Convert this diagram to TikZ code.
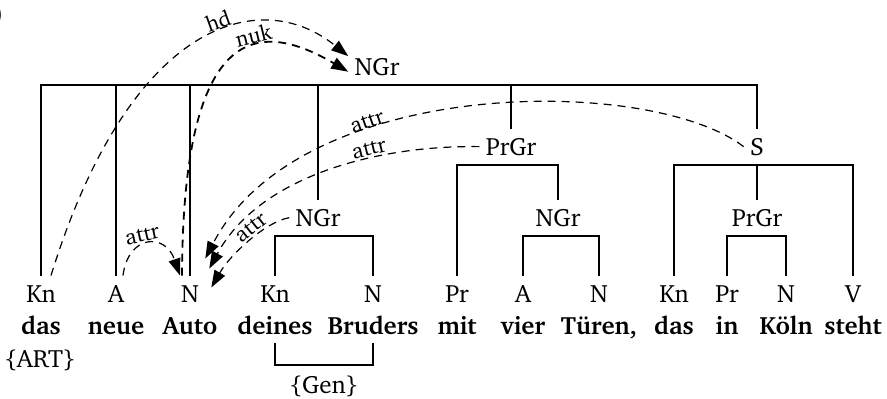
\documentclass[tikz,border=0pt]{standalone}
\usepackage[T1]{fontenc}
\usepackage{charter}
\usetikzlibrary{arrows.meta}

\begin{document}
\begin{tikzpicture}[
  x=0.5pt, y=-0.5pt,
  every node/.style={font=\fontsize{12.5}{15}\selectfont},
  catnode/.style={anchor=base, inner xsep=3pt, inner ysep=4.5pt},
  phrasenode/.style={anchor=base, inner xsep=3pt, inner ysep=4.5pt},
  wordnode/.style={anchor=base, inner xsep=2pt, inner ysep=4pt, font=\fontsize{12.5}{15}\selectfont\bfseries},
  featnode/.style={anchor=base, inner ysep=5pt},
  tree/.style={line width=0.9pt},
  dep/.style={dash pattern=on 4pt off 3pt, line width=0.6pt, -{Triangle[length=8.5pt, width=6pt]}},
  deplabel/.style={font=\fontsize{11}{13}\selectfont, sloped, above, inner sep=1pt},
]
\useasboundingbox (0,0) rectangle (887,398);

\node[anchor=east, inner sep=0pt] (corner) at (4,15) {)};

% word categories
\node[catnode] (kn1) at (41,302) {Kn};
\node[catnode] (a1) at (116,302) {A};
\node[catnode] (n1) at (190,302) {N};
\node[catnode] (kn2) at (275,302) {Kn};
\node[catnode] (n2) at (373,302) {N};
\node[catnode] (pr1) at (457,302) {Pr};
\node[catnode] (a2) at (523,302) {A};
\node[catnode] (n3) at (599,302) {N};
\node[catnode] (kn3) at (674,302) {Kn};
\node[catnode] (pr2) at (727,302) {Pr};
\node[catnode] (n4) at (786,302) {N};
\node[catnode] (v1) at (853,302) {V};

% the sentence
\node[wordnode] (das1) at (41,334) {das};
\node[wordnode] (neue) at (116,334) {neue};
\node[wordnode] (auto) at (190,334) {Auto};
\node[wordnode] (deines) at (275,334) {deines};
\node[wordnode] (bruders) at (373,334) {Bruders};
\node[wordnode] (mit) at (457,334) {mit};
\node[wordnode] (vier) at (523,334) {vier};
\node[wordnode] (tueren) at (599,334) {Türen,};
\node[wordnode] (das2) at (674,334) {das};
\node[wordnode] (in) at (727,334) {in};
\node[wordnode] (koeln) at (786,334) {Köln};
\node[wordnode] (steht) at (853,334) {steht};

% features
\node[featnode] (art) at (40,367) {\{ART\}};
\node[featnode] (gen) at (324,393) {\{Gen\}};

% phrases
\node[phrasenode] (ngrtop) at (377,75) {NGr};
\node[phrasenode] (prgr1) at (511,155) {PrGr};
\node[phrasenode] (s1) at (757,155) {S};
\node[phrasenode] (ngr2) at (318,226) {NGr};
\node[phrasenode] (ngr3) at (558,226) {NGr};
\node[phrasenode] (prgr2) at (757,226) {PrGr};

% constituency brackets
\draw[tree] (kn1.north) |- (ngrtop.south) -| (s1.north);
\draw[tree] (a1.north) -- (a1.north |- ngrtop.south);
\draw[tree] (n1.north) -- (n1.north |- ngrtop.south);
\draw[tree] (ngr2.north) -- (ngr2.north |- ngrtop.south);
\draw[tree] (prgr1.north) -- (prgr1.north |- ngrtop.south);
\draw[tree] (kn2.north) |- (ngr2.south) -| (n2.north);
\draw[tree] (pr1.north) |- (prgr1.south) -| (ngr3.north);
\draw[tree] (a2.north) |- (ngr3.south) -| (n3.north);
\draw[tree] (kn3.north) |- (s1.south) -| (v1.north);
\draw[tree] (prgr2.north) -- (prgr2.north |- s1.south);
\draw[tree] (pr2.north) |- (prgr2.south) -| (n4.north);
\draw[tree] (deines.south) |- (gen.north) -| (bruders.south);

% dependencies
\draw[dep] ([xshift=5pt]kn1.north) .. controls (130,20) and (260,-15) .. node[deplabel, pos=0.58] {hd} (ngrtop.160);
\draw[dep, line width=0.9pt] ([xshift=-4pt]n1.north) .. controls (183,20) and (260,20) .. node[deplabel, pos=0.62] {nuk} (ngrtop.190);
\draw[dep] ([xshift=3.5pt]a1.north) .. controls (128,235) and (165,232) .. node[deplabel, pos=0.45] {attr} ([xshift=-5pt]n1.north);
\draw[dep] (s1.west) .. controls (650,75) and (300,75) .. node[deplabel, pos=0.66] {attr} ([yshift=8.5pt]n1.north east);
\draw[dep] (prgr1.west) .. controls (380,145) and (260,175) .. node[deplabel, pos=0.35] {attr} ([xshift=2pt, yshift=3.5pt]n1.north east);
\draw[dep] (ngr2.west) .. controls (265,222) and (230,255) .. node[deplabel, pos=0.4] {attr} ([xshift=3pt, yshift=3pt]n1.east);

\end{tikzpicture}
\end{document}
